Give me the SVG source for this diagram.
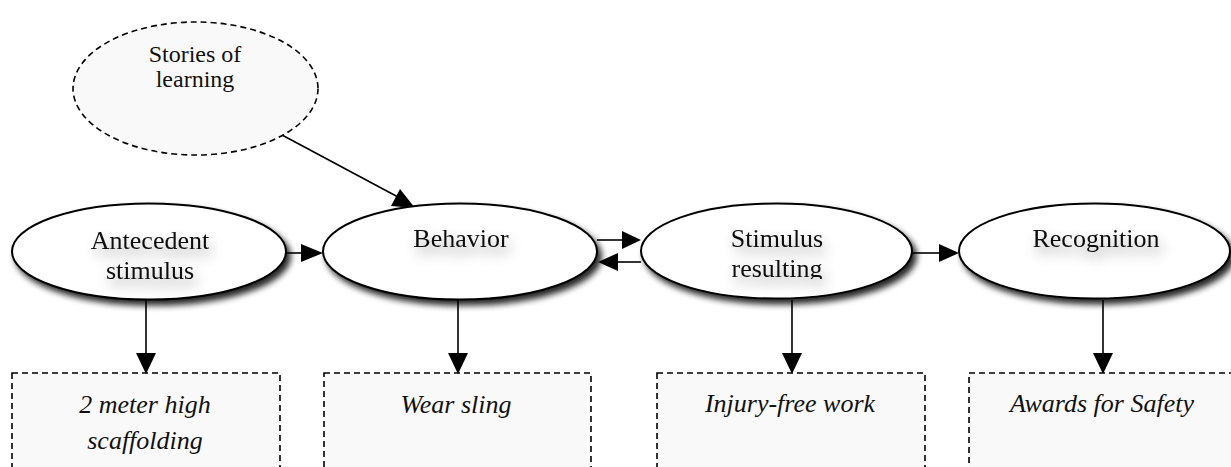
<svg xmlns="http://www.w3.org/2000/svg" width="1231" height="467" viewBox="0 0 1231 467">
<style>
.ell{fill:#ffffff;stroke:#000;stroke-width:2;filter:url(#drop)}
.dash{fill:#f9f9f9;stroke:#000;stroke-width:1.6;stroke-dasharray:6 4}
.lbl{font-family:"Liberation Serif","Times New Roman",serif;font-size:26px;fill:#111;text-anchor:middle}
.it{font-style:italic}
.ts{filter:url(#tshadow)}
.line{stroke:#000;stroke-width:1.6;fill:none}
.head{fill:#000}
</style>
<defs>
<filter id="drop" x="-10%" y="-20%" width="125%" height="150%">
<feGaussianBlur in="SourceAlpha" stdDeviation="3"/>
<feOffset dx="4" dy="5" result="b"/>
<feComponentTransfer><feFuncA type="linear" slope="0.85"/></feComponentTransfer>
<feMerge><feMergeNode/><feMergeNode in="SourceGraphic"/></feMerge>
</filter>
<filter id="tshadow" x="-30%" y="-60%" width="160%" height="240%">
<feGaussianBlur in="SourceAlpha" stdDeviation="7"/>
<feOffset dx="3" dy="7"/>
<feComponentTransfer><feFuncA type="linear" slope="0.4"/></feComponentTransfer>
<feMerge><feMergeNode/><feMergeNode in="SourceGraphic"/></feMerge>
</filter>
<clipPath id="clipRes"><rect x="640" y="200" width="280" height="79"/></clipPath>
</defs>

<g id="connectors">
<line class="line" x1="282" y1="135" x2="398" y2="197"/>
<polygon class="head" points="415,208 391,206 400,189"/>
<line class="line" x1="286" y1="253" x2="303" y2="253"/>
<polygon class="head" points="323,253 301,244 301,262"/>
<line class="line" x1="597" y1="240" x2="624" y2="240"/>
<polygon class="head" points="641,240 622,231 622,249"/>
<line class="line" x1="641" y1="262" x2="616" y2="262"/>
<polygon class="head" points="598,262 618,253 618,271"/>
<line class="line" x1="912" y1="253" x2="940" y2="253"/>
<polygon class="head" points="959,253 939,244 939,262"/>
<line class="line" x1="146" y1="300" x2="146" y2="355"/>
<polygon class="head" points="146,374 136,353 156,353"/>
<line class="line" x1="458" y1="300" x2="458" y2="355"/>
<polygon class="head" points="458,374 448,353 468,353"/>
<line class="line" x1="792" y1="300" x2="792" y2="355"/>
<polygon class="head" points="792,374 782,353 802,353"/>
<line class="line" x1="1103" y1="300" x2="1103" y2="355"/>
<polygon class="head" points="1103,374 1093,353 1113,353"/>
</g>

<g id="stories">
<ellipse class="dash" cx="195.5" cy="88.5" rx="122.5" ry="66.5"/>
<text class="lbl" style="font-size:24px" x="195" y="62">Stories of</text>
<text class="lbl" style="font-size:24px" x="195" y="87">learning</text>
</g>

<g id="antecedent">
<ellipse class="ell" cx="149" cy="251.5" rx="137" ry="48"/>
<g class="ts">
<text class="lbl" x="150" y="249">Antecedent</text>
<text class="lbl" x="150" y="279">stimulus</text>
</g>
</g>

<g id="behavior">
<ellipse class="ell" cx="460" cy="251.5" rx="137" ry="48"/>
<g class="ts">
<text class="lbl" x="461" y="247">Behavior</text>
</g>
</g>

<g id="stimulus">
<ellipse class="ell" cx="776.5" cy="251" rx="135.5" ry="47.5"/>
<g class="ts">
<text class="lbl" x="777" y="247">Stimulus</text>
<text class="lbl" x="777" y="277" clip-path="url(#clipRes)">resulting</text>
</g>
</g>

<g id="recognition">
<ellipse class="ell" cx="1094.5" cy="251" rx="135.5" ry="47.5"/>
<g class="ts">
<text class="lbl" x="1096" y="247">Recognition</text>
</g>
</g>

<g id="box-scaffolding">
<rect class="dash" x="12" y="373" width="268" height="110"/>
<text class="lbl it" x="145" y="413">2 meter high</text>
<text class="lbl it" x="145" y="449">scaffolding</text>
</g>

<g id="box-sling">
<rect class="dash" x="324" y="373" width="267" height="110"/>
<text class="lbl it" x="456" y="413">Wear sling</text>
</g>

<g id="box-injury">
<rect class="dash" x="657" y="373" width="268" height="110"/>
<text class="lbl it" x="790" y="412">Injury-free work</text>
</g>

<g id="box-awards">
<rect class="dash" x="969" y="373" width="290" height="110"/>
<text class="lbl it" x="1102" y="412">Awards for Safety</text>
</g>
</svg>
